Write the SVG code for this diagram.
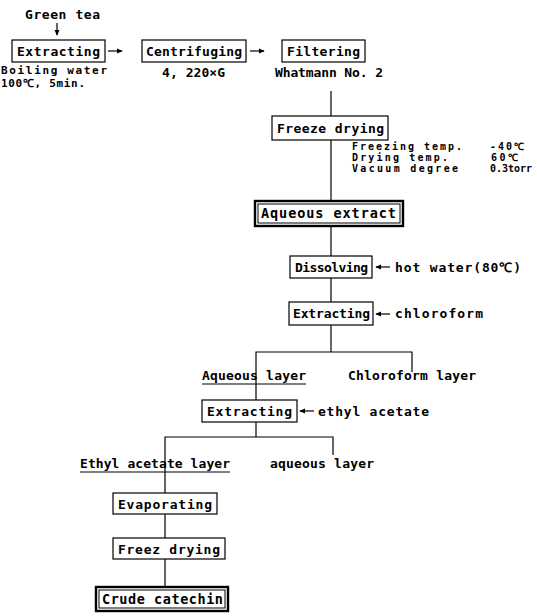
<svg xmlns="http://www.w3.org/2000/svg" width="537" height="616" viewBox="0 0 537 616">
<style>
.bg{fill:#fff}
.box{fill:#fff;stroke:#000;stroke-width:1.2}
.dbo{fill:#fff;stroke:#000;stroke-width:2.4}
.dbi{fill:none;stroke:#000;stroke-width:1}
.ln{stroke:#000;stroke-width:1.2;fill:none}
.ar{stroke:#000;stroke-width:1.2;fill:none;marker-end:url(#ah)}
.t{font-family:"DejaVu Sans Mono","Liberation Mono",monospace;font-size:13px;font-weight:bold;fill:#000}
.s{font-size:10px}
.m{font-size:11px}
.h{font-size:13.5px}
</style>
<defs>
<marker id="ah" viewBox="0 0 8 8" refX="7" refY="4" markerWidth="6" markerHeight="6" markerUnits="userSpaceOnUse" orient="auto">
<path d="M0,0.5 L8,4 L0,7.5 Z" fill="#000"/>
</marker>
</defs>
<rect class="bg" x="0" y="0" width="537" height="616"/>

<g id="connectors">
<line class="ar" x1="57" y1="23" x2="57" y2="35"/>
<line class="ar" x1="108" y1="51" x2="122" y2="51"/>
<line class="ar" x1="250" y1="51" x2="264" y2="51"/>
<line class="ln" x1="331" y1="91" x2="331" y2="116"/>
<line class="ln" x1="331" y1="140" x2="331" y2="201"/>
<line class="ln" x1="331" y1="226" x2="331" y2="256"/>
<line class="ar" x1="390" y1="267" x2="376" y2="267"/>
<line class="ln" x1="331" y1="278" x2="331" y2="302"/>
<line class="ar" x1="390" y1="314" x2="376" y2="314"/>
<line class="ln" x1="331" y1="325" x2="331" y2="352"/>
<polyline class="ln" points="256,400 256,352 412,352 412,372"/>
<line class="ar" x1="314" y1="411" x2="300" y2="411"/>
<line class="ln" x1="256" y1="422" x2="256" y2="437"/>
<polyline class="ln" points="165,493 165,437 333,437 333,455"/>
<line class="ln" x1="165" y1="514" x2="165" y2="538"/>
<line class="ln" x1="165" y1="559" x2="165" y2="587"/>
<line class="ln" x1="202" y1="384" x2="306" y2="384"/>
<line class="ln" x1="80" y1="472" x2="230" y2="472"/>
</g>

<g id="green-tea"><text class="t" x="25" y="19" textLength="75">Green tea</text></g>

<g id="extracting1">
<rect class="box" x="12" y="40" width="93" height="22"/>
<text class="t" x="17" y="56" textLength="83">Extracting</text>
</g>
<g id="extracting1-cond">
<text class="t m" x="1" y="74" textLength="106">Boiling water</text>
<text class="t m" x="1" y="87" textLength="84">100℃, 5min.</text>
</g>

<g id="centrifuging">
<rect class="box" x="142" y="40" width="104" height="22"/>
<text class="t" x="146" y="56" textLength="96">Centrifuging</text>
</g>
<g id="centrifuging-cond"><text class="t" x="162" y="77" textLength="63">4, 220×G</text></g>

<g id="filtering">
<rect class="box" x="282" y="40" width="83" height="22"/>
<text class="t" x="287" y="56" textLength="73">Filtering</text>
</g>
<g id="filtering-cond"><text class="t" x="275" y="77" textLength="108">Whatmann No. 2</text></g>

<g id="freeze-drying">
<rect class="box" x="272" y="116" width="116" height="24"/>
<text class="t" x="277" y="133" textLength="107">Freeze drying</text>
</g>
<g id="freeze-cond">
<text class="t s" x="352" y="150" textLength="110">Freezing temp.</text>
<text class="t s" x="490" y="150" textLength="34">-40℃</text>
<text class="t s" x="352" y="161" textLength="96">Drying temp.</text>
<text class="t s" x="491" y="161" textLength="27">60℃</text>
<text class="t s" x="352" y="172" textLength="106">Vacuum degree</text>
<text class="t s" x="490" y="172" textLength="42">0.3torr</text>
</g>

<g id="aqueous-extract">
<rect class="dbo" x="255" y="201" width="148" height="25"/>
<rect class="dbi" x="258" y="204" width="142" height="19"/>
<text class="t h" x="261" y="218" textLength="135">Aqueous extract</text>
</g>

<g id="dissolving">
<rect class="box" x="290" y="256" width="82" height="22"/>
<text class="t" x="295" y="272" textLength="73">Dissolving</text>
</g>
<g id="hot-water"><text class="t" x="395" y="272" textLength="126">hot water(80℃)</text></g>

<g id="extracting2">
<rect class="box" x="289" y="302" width="84" height="23"/>
<text class="t" x="293" y="318" textLength="77">Extracting</text>
</g>
<g id="chloroform"><text class="t" x="395" y="318" textLength="88">chloroform</text></g>

<g id="aqueous-layer1"><text class="t" x="202" y="380" textLength="104">Aqueous layer</text></g>
<g id="chloroform-layer"><text class="t" x="348" y="380" textLength="128">Chloroform layer</text></g>

<g id="extracting3">
<rect class="box" x="202" y="400" width="95" height="22"/>
<text class="t" x="207" y="416" textLength="85">Extracting</text>
</g>
<g id="ethyl-acetate"><text class="t" x="318" y="416" textLength="111">ethyl acetate</text></g>

<g id="ethyl-acetate-layer"><text class="t" x="80" y="468" textLength="150">Ethyl acetate layer</text></g>
<g id="aqueous-layer2"><text class="t" x="270" y="468" textLength="104">aqueous layer</text></g>

<g id="evaporating">
<rect class="box" x="113" y="493" width="104" height="21"/>
<text class="t" x="118" y="509" textLength="94">Evaporating</text>
</g>

<g id="freez-drying">
<rect class="box" x="113" y="538" width="112" height="21"/>
<text class="t" x="118" y="554" textLength="102">Freez drying</text>
</g>

<g id="crude-catechin">
<rect class="dbo" x="96" y="587" width="132" height="24"/>
<rect class="dbi" x="99" y="590" width="126" height="18"/>
<text class="t h" x="102" y="604" textLength="121">Crude catechin</text>
</g>
</svg>
